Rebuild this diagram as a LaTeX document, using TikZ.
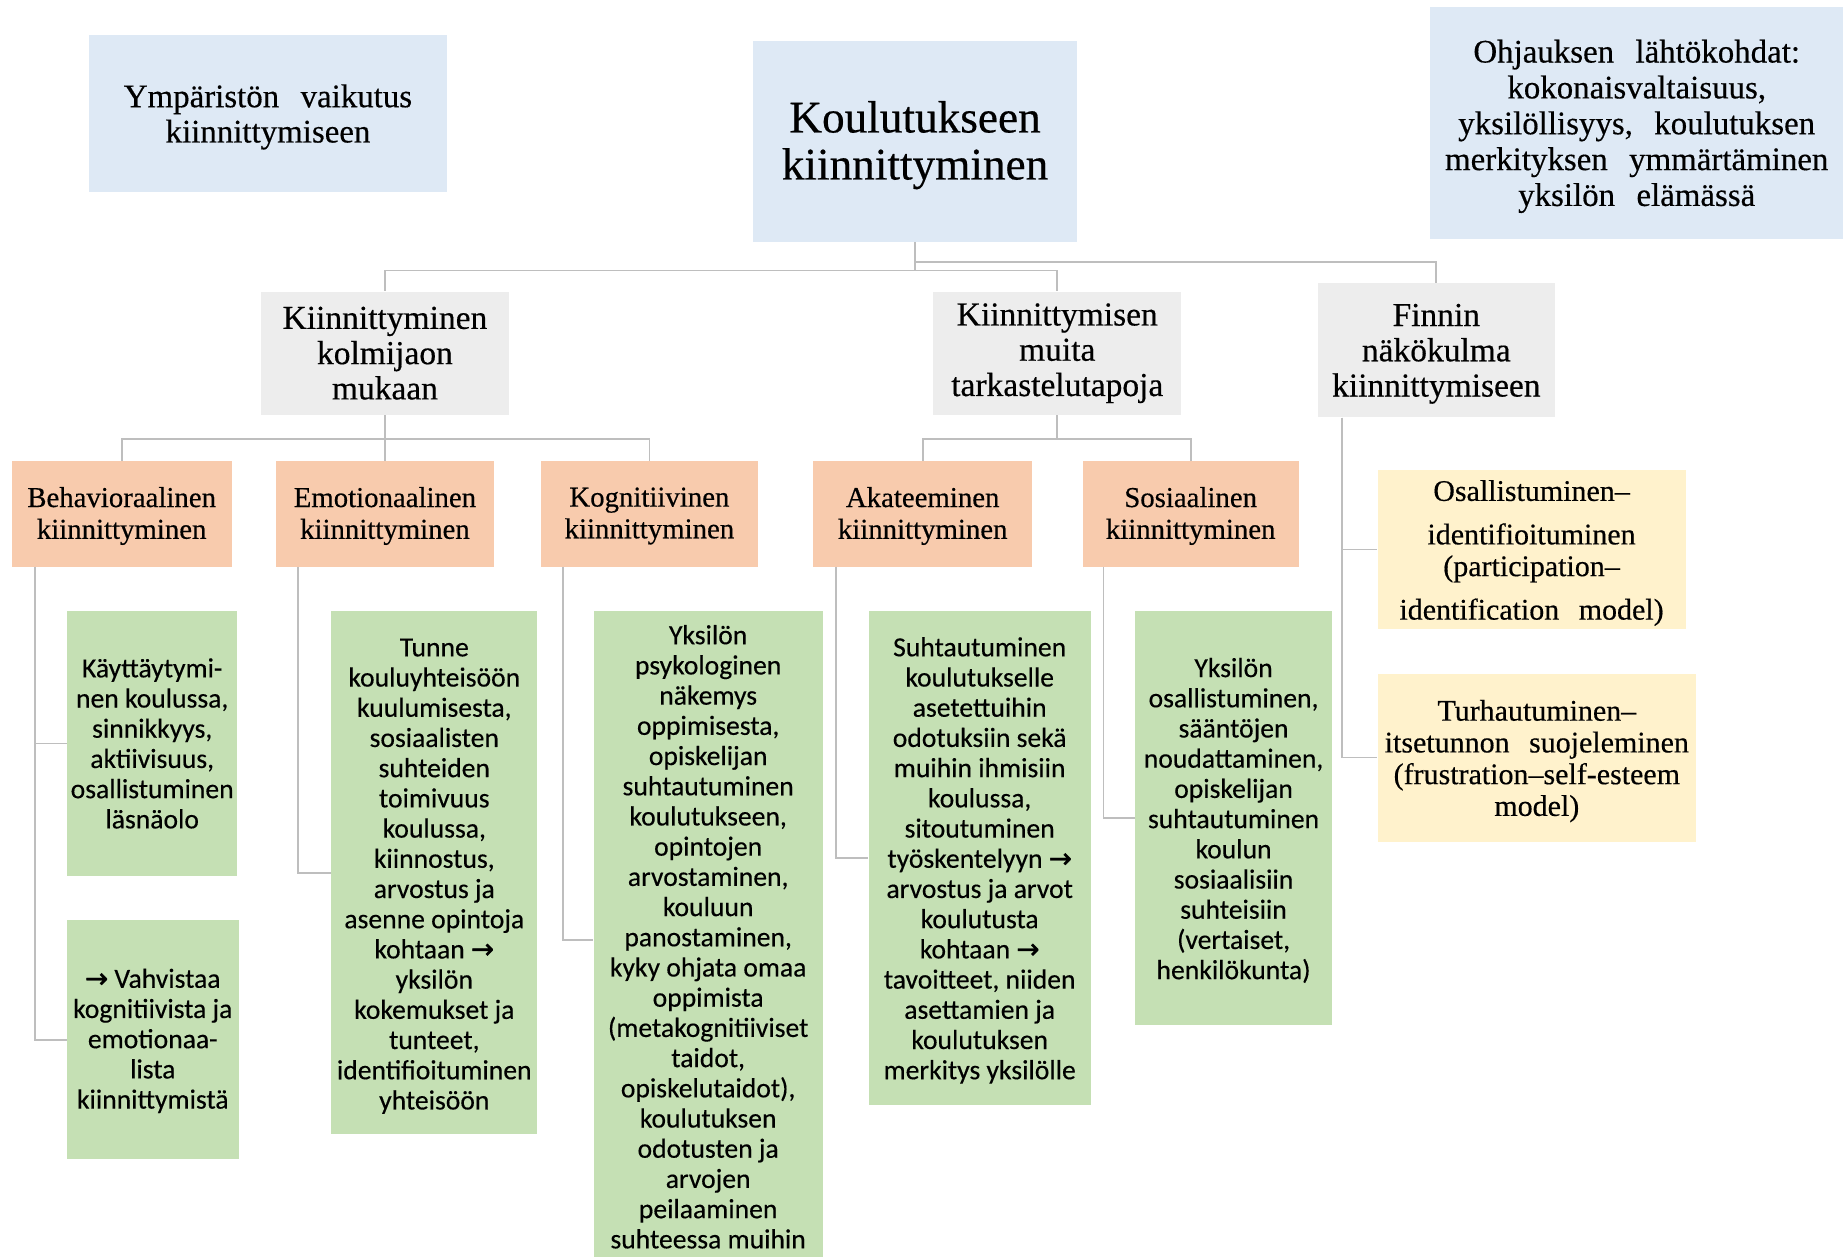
\documentclass[tikz,border=0pt]{standalone}
\usepackage{fontspec}
\setmainfont[FakeBold=0.4]{Liberation Serif}
\newfontfamily\calfont[FakeBold=0.35]{Carlito}
\newfontfamily\arrfont[FakeBold=1.2]{DejaVu Sans}
\newcommand\wsp{\spaceskip=0.65em\relax}
\newcommand\arr{{\arrfont\char"2192}}
\definecolor{cBlue}{RGB}{222,233,245}
\definecolor{cGray}{RGB}{237,237,237}
\definecolor{cOrange}{RGB}{248,203,173}
\definecolor{cGreen}{RGB}{197,224,180}
\definecolor{cYellow}{RGB}{255,242,204}
\definecolor{lineC}{RGB}{190,190,190}
% #1 style, #2 name, #3 centre, #4 width, #5 height, #6 text shift (down), #7 text
\newcommand\tbox[7]{%
  \node[#1, minimum width=#4pt, minimum height=#5pt] (#2) at (#3) {};
  \node[#1, fill=none, minimum width=0pt, minimum height=0pt, yshift=-#6pt] (#2t) at (#2.center) {#7};}
\begin{document}
\begin{tikzpicture}[x=1pt,y=-1pt,
  bx/.style={rectangle, inner sep=0pt, align=center, text=black},
  bluebox/.style={bx, fill=cBlue},
  graybox/.style={bx, fill=cGray, font=\fontsize{28.5}{30}\selectfont\wsp},
  orbox/.style={bx, fill=cOrange, font=\fontsize{24.5}{27}\selectfont\wsp},
  grbox/.style={bx, fill=cGreen, font=\calfont\fontsize{23.5}{25.7}\selectfont},
  yebox/.style={bx, fill=cYellow, font=\fontsize{25.5}{27}\selectfont\wsp},
  conn/.style={draw=lineC, line width=1.5pt}
]
\useasboundingbox (0,0) rectangle (1568,1069);

% top level
\tbox{bluebox, font=\fontsize{28}{30}\selectfont\wsp}{ymp}{228,96.5}{304}{133}{3}{Ympäristön vaikutus\\kiinnittymiseen}
\tbox{bluebox, font=\fontsize{38.5}{40}\selectfont}{kou}{778.5,120.5}{275}{171}{3}{Koulutukseen\\kiinnittyminen}
\tbox{bluebox, font=\fontsize{28}{30.5}\selectfont\wsp}{ohj}{1392.5,104.5}{351}{197}{3}{Ohjauksen lähtökohdat:\\kokonaisvaltaisuus,\\yksilöllisyys, koulutuksen\\merkityksen ymmärtäminen\\yksilön elämässä}

% second level
\tbox{graybox}{kk}{327.5,300.5}{211}{105}{0}{Kiinnittyminen\\kolmijaon\\mukaan}
\tbox{graybox}{km}{899.5,300.5}{211}{105}{0}{Kiinnittymisen\\muita\\tarkastelutapoja}
\tbox{graybox}{fin}{1222,298}{202}{114}{3}{Finnin\\näkökulma\\kiinnittymiseen}

% third level
\tbox{orbox}{b1}{103.5,437}{187}{90}{2}{Behavioraalinen\\kiinnittyminen}
\tbox{orbox}{b2}{327.5,437}{185}{90}{2}{Emotionaalinen\\kiinnittyminen}
\tbox{orbox}{b3}{552.5,437}{185}{90}{2}{Kognitiivinen\\kiinnittyminen}
\tbox{orbox}{b4}{785,437}{186}{90}{2}{Akateeminen\\kiinnittyminen}
\tbox{orbox}{b5}{1013,437}{184}{90}{2}{Sosiaalinen\\kiinnittyminen}

% Finn models
\tbox{yebox}{y1}{1303,467.5}{262}{135}{3}{Osallistuminen–\\[10pt]identifioituminen\\(participation–\\[10pt]identification model)}
\tbox{yebox}{y2}{1307.5,644.5}{271}{143}{3}{Turhautuminen–\\itsetunnon suojeleminen\\(frustration–self-esteem\\model)}

% green boxes
\tbox{grbox}{g1a}{129.5,632.5}{145}{225}{0}{Käyttäytymi-\\nen koulussa,\\sinnikkyys,\\aktiivisuus,\\osallistuminen\\läsnäolo}
\tbox{grbox}{g1b}{130,884.5}{146}{203}{1}{\arr{} Vahvistaa\\kognitiivista ja\\emotionaa-\\lista\\kiinnittymistä}
\tbox{grbox}{g2}{369.5,742.5}{175}{445}{3}{Tunne\\kouluyhteisöön\\kuulumisesta,\\sosiaalisten\\suhteiden\\toimivuus\\koulussa,\\kiinnostus,\\arvostus ja\\asenne opintoja\\kohtaan \arr\\yksilön\\kokemukset ja\\tunteet,\\identifioituminen\\yhteisöön}
\tbox{grbox}{g3}{602.5,800}{195}{560}{-3}{Yksilön\\psykologinen\\näkemys\\oppimisesta,\\opiskelijan\\suhtautuminen\\koulutukseen,\\opintojen\\arvostaminen,\\kouluun\\panostaminen,\\kyky ohjata omaa\\oppimista\\(metakognitiiviset\\taidot,\\opiskelutaidot),\\koulutuksen\\odotusten ja\\arvojen\\peilaaminen\\suhteessa muihin}
\tbox{grbox}{g4}{833.5,730}{189}{420}{2}{Suhtautuminen\\koulutukselle\\asetettuihin\\odotuksiin sekä\\muihin ihmisiin\\koulussa,\\sitoutuminen\\työskentelyyn \arr\\arvostus ja arvot\\koulutusta\\kohtaan \arr\\tavoitteet, niiden\\asettamien ja\\koulutuksen\\merkitys yksilölle}
\tbox{grbox}{g5}{1049.5,696}{167}{352}{2}{Yksilön\\osallistuminen,\\sääntöjen\\noudattaminen,\\opiskelijan\\suhtautuminen\\koulun\\sosiaalisiin\\suhteisiin\\(vertaiset,\\henkilökunta)}

% connectors
\draw[conn] (kou.south) -- ++(0,24) -| (kk.north);
\draw[conn] (kou.south) -- ++(0,24) -| (km.north);
\draw[conn] (kou.south) -- ++(0,17) -| (fin.north);
\draw[conn] (kk.south) -- ++(0,20) -| (b1.north);
\draw[conn] (kk.south) -- ++(0,20) -| (b2.north);
\draw[conn] (kk.south) -- ++(0,20) -| (b3.north);
\draw[conn] (km.south) -- ++(0,20) -| (b4.north);
\draw[conn] (km.south) -- ++(0,20) -| (b5.north);
\draw[conn] ([xshift=20pt]b1.south west) |- (g1a.west);
\draw[conn] ([xshift=20pt]b1.south west) |- (g1b.west);
\draw[conn] ([xshift=19pt]b2.south west) |- (g2.west);
\draw[conn] ([xshift=19pt]b3.south west) |- (g3.west);
\draw[conn] ([xshift=19.5pt]b4.south west) |- (g4.west);
\draw[conn] ([xshift=18pt]b5.south west) |- (g5.west);
\draw[conn] ([xshift=21pt]fin.south west) |- (y1.west);
\draw[conn] ([xshift=21pt]fin.south west) |- (y2.west);
\end{tikzpicture}
\end{document}
